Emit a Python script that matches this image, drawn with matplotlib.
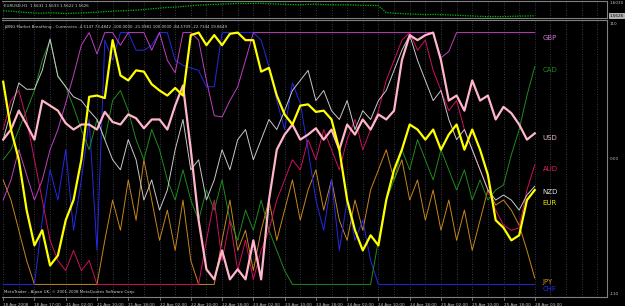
import numpy as np
import matplotlib.pyplot as plt
from matplotlib.transforms import blended_transform_factory

# bars are sampled every 2nd hour-bar of the H1 chart
bars = np.arange(0, 138, 2)

price = [1.5770, 1.5760, 1.5740,
         1.5720, 1.5710, 1.5700, 1.5715, 1.5705, 1.5690, 1.5700, 1.5710, 1.5720, 1.5730,
         1.5750, 1.5760, 1.5770, 1.5780, 1.5790,
         1.5810, 1.5830, 1.5850, 1.5870, 1.5880, 1.5900, 1.5920, 1.5940, 1.5950, 1.5960, 1.5970,
         1.5980, 1.5990, 1.5985, 1.5990, 1.5995, 1.5980, 1.5970, 1.5960, 1.5955, 1.5950,
         1.5960, 1.5965, 1.5955, 1.5950, 1.5945, 1.5950, 1.5940, 1.5930, 1.5935, 1.5925,
         1.5720,
         1.5700, 1.5690, 1.5680, 1.5670, 1.5660, 1.5665, 1.5660, 1.5650, 1.5640,
         1.5630, 1.5620, 1.5610, 1.5600, 1.5605, 1.5600, 1.5610, 1.5615, 1.5620, 1.5626]

eur = [61, 23, -1, -41, -69, -57, -85, -77, -49, -33, -1, 49, 50, 48, 94, 66, 62, 70, 69, 59,
       54, 50, 56, 50, 98, 100, 90, 98, 90, 99, 100, 94, 94, 69, 72, 50, 35, 27, 42, 43,
       37, 38, 31, 7, -33, -57, -73, -61, -69, -33, -9, 7, 27, 23, 15, 23, 7, 19, 27, 7,
       23, 7, -13, -49, -55, -65, -61, -33, -25]
usd = [15, 23, 38, 27, 15, 46, 42, 38, 28, 23, 27, 27, 23, 37, 29, 27, 35, 32, 24, 31,
       31, 23, 42, 58, 7, -49, -88, -96, -73, -96, -88, -96, -65, -96, -33, 7, 19, 27, 15, 19,
       24, 15, 23, 7, 27, 19, 31, 23, 35, 31, 38, 78, 98, 94, 98, 100, 78, 46, 50, 38,
       62, 46, 50, 31, 41, 36, 27, 15, 20]
gbp = [-33, -17, 7, -13, -33, -17, 7, 23, 44, 66, 90, 100, 83, 100, 100, 90, 100, 100, 100, 86,
       100, 78, 68, 100, 100, 94, 62, 34, 33, 46, 57, 78, 100, 100, 100, 100, 100, 100, 100, 100,
       100, 100, 100, 100, 100, 100, 100, 100, 100, 100, 100, 100, 100, 100, 100, 100, 80, 85, 100, 100,
       100, 100, 100, 100, 100, 100, 100, 100, 100]
chf = [-100, -100, -100, -100, -100, -49, -9, -33, 7, -57, -17, 31, -73, 94, 78, 100, 100, 86, 86, 90,
       100, 100, 78, 74, 72, 70, 57, 57, 100, 100, 100, 100, 100, 94, 73, 46, 23, 60, 44, 7,
       -33, -57, -17, -73, -33, -65, -49, -81, -100, -100, -100, -100, -100, -100, -100, -100, -100, -100, -100, -100,
       -100, -100, -100, -100, -100, -100, -100, -100, -100]
jpy = [-17, -33, -57, -81, -100, -100, -100, -100, -100, -100, -100, -100, -100, -65, -33, -57, -17, -49, -1, -33,
       -65, -41, -73, -33, -81, -100, -100, -100, -65, -33, -73, -57, -89, -57, -33, -65, -41, -17, -49, -25,
       -9, -41, -17, -49, -65, -33, -57, -25, -9, 7, -17, -1, -33, -17, -49, -25, -57, -33, -65, -41,
       -73, -49, -25, -37, -33, -41, -53, -73, -95]
cad = [-1, 7, 23, 38, 54, 78, 94, 66, 57, 41, 23, 7, 31, 15, 46, 54, 38, 15, -1, 23,
       7, -17, -33, -9, -33, -49, -25, -41, -17, -49, -65, -41, -57, -33, -57, -73, -89, -100, -100, -100,
       -100, -100, -100, -100, -100, -100, -100, -100, -65, -33, -17, 7, -9, 15, -1, -17, 7, -9, -25, -9,
       -33, -17, -33, -25, -21, 3, 23, 50, 73]
nzd = [15, 38, 60, 55, 55, 70, 95, 65, 57, 49, 46, 38, 31, 15, -1, -9, 15, -1, -33, -17,
       -41, -25, 7, 31, -9, -1, -33, -17, 7, -9, 15, 23, -1, 15, 31, 23, 38, 54, 62, 70,
       46, 54, 38, 31, 46, 23, 38, 31, 46, 54, 70, 86, 98, 78, 62, 46, 54, 31, 15, 23,
       7, -9, -25, -33, -29, -33, -41, -29, -22]
aud = [23, 46, 54, 31, -1, -33, -65, -81, -89, -73, -89, -81, -100, -100, -100, -100, -100, -100, -100, -100,
       -100, -100, -100, -100, -100, -100, -65, -33, -81, -49, -89, -65, -96, -73, -57, -33, -17, -1, -9, 15,
       -1, 23, 7, -9, 15, 31, 7, 23, 38, 62, 78, 94, 100, 86, 94, 70, 54, 38, 46, 23,
       7, -9, -25, -41, -53, -57, -55, -25, -5]

names = ['GBP', 'CAD', 'USD', 'AUD', 'NZD', 'EUR', 'JPY', 'CHF']
series = {'GBP': gbp, 'CAD': cad, 'USD': usd, 'AUD': aud, 'NZD': nzd, 'EUR': eur, 'JPY': jpy, 'CHF': chf}
colors = {'GBP': '#C040C0', 'CAD': '#1E8C1E', 'USD': '#FFB6C8', 'AUD': '#D01060',
          'NZD': '#C8C8C8', 'EUR': '#FFFF00', 'JPY': '#C8861E', 'CHF': '#2828E6'}
widths = {'GBP': 0.7, 'CAD': 0.7, 'USD': 1.6, 'AUD': 0.7, 'NZD': 0.7, 'EUR': 1.6, 'JPY': 0.7, 'CHF': 0.7}
label_y = {'GBP': 96, 'CAD': 70, 'USD': 16, 'AUD': -8, 'NZD': -27, 'EUR': -35, 'JPY': -98, 'CHF': -104}
label_colors = {'GBP': '#D070D0', 'CAD': '#1E8C1E', 'USD': '#E0B8C8', 'AUD': '#E0205A',
                'NZD': '#E0E0E0', 'EUR': '#E6E600', 'JPY': '#D09020', 'CHF': '#2828FF'}
draw_order = ['JPY', 'CHF', 'CAD', 'AUD', 'NZD', 'GBP', 'USD', 'EUR']

tick_labels = ['18 Apr 2008', '18 Apr 17:00', '21 Apr 02:00', '21 Apr 10:00', '21 Apr 18:00',
               '22 Apr 02:00', '22 Apr 10:00', '22 Apr 18:00', '23 Apr 02:00', '23 Apr 10:00',
               '23 Apr 18:00', '24 Apr 02:00', '24 Apr 10:00', '24 Apr 18:00', '25 Apr 02:00',
               '25 Apr 10:00', '25 Apr 18:00', '28 Apr 03:00']

W, H = 625, 306
fig = plt.figure(figsize=(W / 100, H / 100), dpi=100, facecolor='black')
frame = '#808080'
grid_c = '#4a4a64'
xmax = 604 / 3.91

ax_p = fig.add_axes([2 / W, (H - 18) / H, 605 / W, 17 / H], facecolor='black')
ax = fig.add_axes([2 / W, (H - 297) / H, 605 / W, 277 / H], facecolor='black')

for a in (ax_p, ax):
    a.set_xlim(-0.3, xmax)
    a.set_xticks([])
    a.set_yticks([])
    for s in a.spines.values():
        s.set_color(frame)
        s.set_linewidth(0.8)
    a.spines['left'].set_visible(False)
    for g in np.arange(0, xmax, 4):
        a.axvline(g, color=grid_c, lw=0.6, ls=(0, (1, 2)), zorder=0)

# price panel
ax_p.set_ylim(1.556, 1.606)
ax_p.plot(bars, price, color='#00C000', lw=0.9, ls=(0, (1, 1)))
ax_p.text(0.004, 0.72, 'EURUSD,H1  1.5631 1.5633 1.5622 1.5626', transform=ax_p.transAxes,
          fontsize=2.9, color='#D0D0D0', va='center')
ax_p.text(1.005, 0.88, '1.6030', transform=ax_p.transAxes, fontsize=3.0, color='#C0C0C0', va='center')
ax_p.text(1.005, 0.12, '1.5626', transform=ax_p.transAxes, fontsize=3.0, color='black', va='center',
          bbox=dict(boxstyle='square,pad=0.15', fc='#B0B0B0', ec='none'))

# indicator panel
ax.set_ylim(-110, 110)
for n in draw_order:
    ax.plot(bars, series[n], color=colors[n], lw=widths[n], solid_joinstyle='round')
for n in names:
    ax.text(138.0, label_y[n], n, color=label_colors[n], fontsize=5, va='center', ha='left')

ax.text(0.004, 0.975, 'JWNG Market Breathing - Currencies -4.5147 73.4842 -100.0000 -21.0981 100.0000 '
        '-84.5709 -22.7344 19.8649', transform=ax.transAxes, fontsize=2.9, color='#D0D0D0', va='center')
ax.text(0.004, 0.012, 'MetaTrader - Alpari UK, \u00a9 2001-2008 MetaQuotes Software Corp.',
        transform=ax.transAxes, fontsize=2.9, color='#D0D0D0', va='bottom')

ax.text(1.005, 0.985, '110', transform=ax.transAxes, fontsize=3.0, color='#C0C0C0', va='center')
ax.text(1.005, 0.5, '0.00', transform=ax.transAxes, fontsize=3.0, color='#C0C0C0', va='center')
ax.text(1.005, 0.012, '-110', transform=ax.transAxes, fontsize=3.0, color='#C0C0C0', va='center')

tr = blended_transform_factory(ax.transData, ax.transAxes)
for i, lab in enumerate(tick_labels):
    xb = i * 8
    ax.plot([xb, xb], [0, -0.012], transform=tr, color=frame, lw=0.6, clip_on=False)
    ax.text(xb, -0.03, lab, transform=tr, fontsize=3.0, color='#C8C8C8', ha='left', va='center')

fig.savefig('out.png', dpi=100, facecolor='black')
